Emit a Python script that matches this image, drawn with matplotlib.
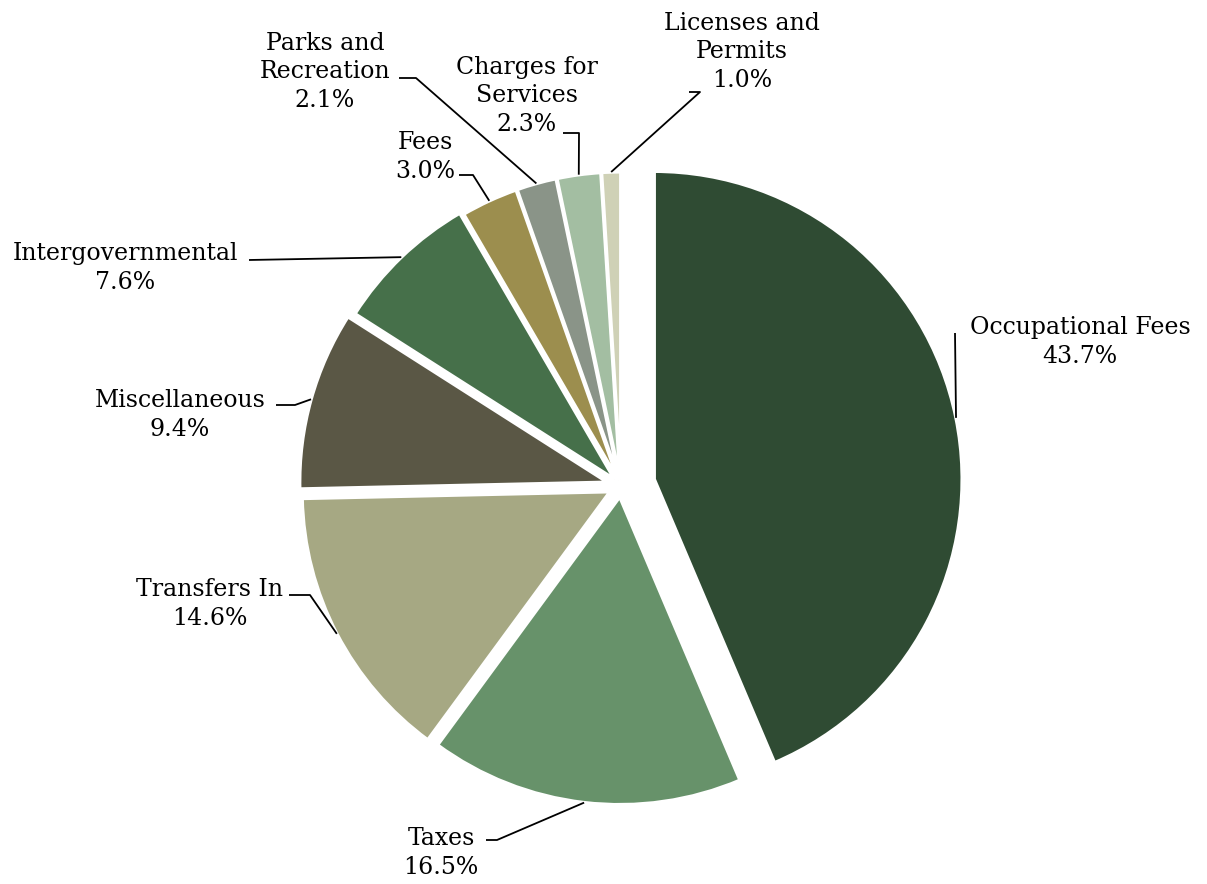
import numpy as np
import matplotlib.pyplot as plt

# revenue sources, clockwise from 12 o'clock
categories = ['Occupational Fees', 'Taxes', 'Transfers In', 'Miscellaneous',
              'Intergovernmental', 'Fees', 'Parks and\nRecreation',
              'Charges for\nServices', 'Licenses and\nPermits']
shares = [43.7, 16.5, 14.6, 9.4, 7.6, 3.0, 2.1, 2.3, 1.0]
colors = ['#2F4B33', '#67926A', '#A6A883', '#5A5745', '#46704A',
          '#9C8E4E', '#8A9488', '#A3BEA2', '#CFD1B6']
explode = [0.11, 0.035, 0.04, 0.045, 0.03, 0.02, 0.02, 0.02, 0.02]

W, H = 1207, 884
R = 308

def px(x, y):
    # pixel position (y down) -> axes data (y up)
    return x, H - y

# label centre, leader start, leader elbow (pixels)
label_pos = [(1080, 342), (441, 853), (210, 604), (180, 415), (125, 268),
             (425, 157), (325, 72), (527, 96), (742, 52)]
leader_start = [(955, 333), (486, 840), (289, 595), (276, 405), (249, 260),
                (459, 175), (399, 78), (563, 133), (689, 92)]
leader_elbow = [(955, 333), (497, 840), (310, 595), (295, 405), (249, 260),
                (473, 175), (416, 78), (579, 133), (700, 92)]

fig = plt.figure(figsize=(W / 100, H / 100), dpi=100)
ax = fig.add_axes([0, 0, 1, 1])

cx, cy = px(621, 486)
wedges, _ = ax.pie(shares, colors=colors, explode=[e * R for e in explode],
                   startangle=90, counterclock=False, radius=R,
                   center=(cx, cy), frame=True,
                   wedgeprops=dict(edgecolor='white', linewidth=2.5))
ax.set_xlim(0, W)
ax.set_ylim(0, H)
ax.set_aspect('equal')
ax.axis('off')

for w, name, val, tp, sp, ep in zip(wedges, categories, shares, label_pos,
                                    leader_start, leader_elbow):
    mid = np.deg2rad((w.theta1 + w.theta2) / 2)
    ax_, ay_ = w.center[0] + w.r * np.cos(mid), w.center[1] + w.r * np.sin(mid)
    xs = [px(*sp)[0], px(*ep)[0], ax_]
    ys = [px(*sp)[1], px(*ep)[1], ay_]
    ax.plot(xs, ys, color='black', lw=1.3, solid_capstyle='butt')
    ax.text(*px(*tp), f'{name}\n{val:.1f}%', ha='center', va='center',
            fontsize=17, family='DejaVu Serif', linespacing=1.32)

fig.savefig('out.png', dpi=100)
